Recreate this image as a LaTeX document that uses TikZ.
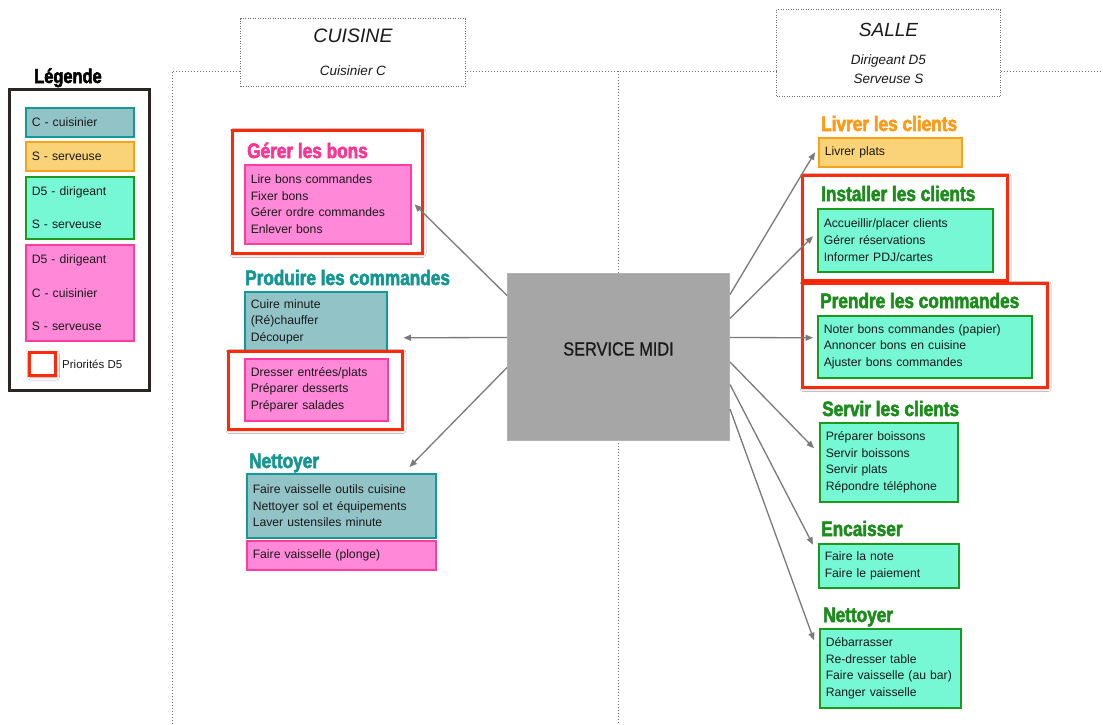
\documentclass[tikz,border=0pt]{standalone}
\usepackage{fontspec}
\setmainfont{Liberation Sans}
\newfontfamily\titlefont[FakeStretch=0.82,BoldFeatures={FakeBold=2.5}]{Liberation Sans}
\newfontfamily\dinfont[FakeStretch=0.86,FakeBold=0.8]{Liberation Sans}
\usetikzlibrary{arrows.meta, positioning, calc, fit, shadows.blur}

\definecolor{tealfill}{HTML}{92C3C6}
\definecolor{tealdraw}{HTML}{13999A}
\definecolor{tealtitre}{HTML}{159693}
\definecolor{rosefill}{HTML}{FF88D8}
\definecolor{rosedraw}{HTML}{FF3D9E}
\definecolor{rosetitre}{HTML}{FF3393}
\definecolor{orfill}{HTML}{FAD378}
\definecolor{ordraw}{HTML}{F8A21C}
\definecolor{ortitre}{HTML}{FF9A15}
\definecolor{vertfill}{HTML}{76F8D5}
\definecolor{vertdraw}{HTML}{1D991D}
\definecolor{verttitre}{HTML}{1C8C1C}
\definecolor{rouge}{HTML}{FF2A0A}
\definecolor{gristrait}{HTML}{7A7A7A}
\definecolor{grismidi}{HTML}{A6A6A6}
\definecolor{pointille}{HTML}{6E6E6E}
\definecolor{legcadre}{HTML}{2B2623}
\definecolor{txt}{HTML}{1A1A1A}

\begin{document}
\begin{tikzpicture}[x=1pt, y=-1pt, >=Stealth,
  tache/.style={draw, line width=1.5pt, anchor=north west, inner xsep=6pt, inner ysep=0pt,
    align=left, text=txt, font=\fontsize{12.2}{16.7}\selectfont},
  cbox/.style={tache, fill=tealfill, draw=tealdraw},
  sbox/.style={tache, fill=orfill, draw=ordraw},
  dsbox/.style={tache, fill=vertfill, draw=vertdraw},
  toutbox/.style={tache, fill=rosefill, draw=rosedraw},
  titre/.style={anchor=base west, inner sep=0pt, font=\titlefont\bfseries\fontsize{21}{24}\selectfont},
  prio/.style={draw=rouge, line width=3pt, fill=white, inner sep=0pt,
    blur shadow={shadow xshift=1pt, shadow yshift=-1.5pt, shadow blur radius=3pt, shadow opacity=35}},
  entete/.style={draw=pointille, dash pattern=on 1pt off 1.5pt, line width=1pt, fill=white,
    anchor=north west, align=center, text=txt, font=\itshape\fontsize{13.5}{19}\selectfont},
  zone/.style={draw=pointille, dash pattern=on 1pt off 2pt, line width=1pt},
  fleche/.style={draw=gristrait, line width=1.3pt, -{Triangle[length=7.5pt,width=6pt]}}]

  \fill[white] (0,0) rectangle (1103,724);
  \useasboundingbox (0,0) rectangle (1103,724);

  % zones cuisine / salle
  \coordinate (hautG) at (172,71);
  \coordinate (hautD) at (1103,71);
  \coordinate (basG)  at (172,724);
  \coordinate (milH)  at (618,71);
  \coordinate (milB)  at (618,724);
  \draw[zone] (basG) -- (hautG) -- (hautD);
  \draw[zone] (milH) -- (milB);

  \node[entete, minimum width=225, minimum height=68] (cuisine) at (240,18)
    {{\fontsize{19.5}{23}\selectfont CUISINE}\\[14pt] Cuisinier C};
  \node[entete, minimum width=224, minimum height=87] (salle) at (776,9)
    {{\fontsize{19}{23}\selectfont SALLE}\\[9pt] Dirigeant D5\\ Serveuse S};

  % legende
  \node[draw=legcadre, line width=3pt, inner sep=0pt, fit={(9,89)(149,390)}] (legende) {};
  \node[anchor=base, inner sep=0pt, font=\titlefont\bfseries\fontsize{20}{24}\selectfont] (legtitre) at (68,83) {Légende};
  \node[cbox, text width=96, minimum height=29] (legC) at (25,107) {C - cuisinier};
  \node[sbox, text width=96, minimum height=29] (legS) at (25,141) {S - serveuse};
  \node[dsbox, text width=96, minimum height=62, font=\fontsize{12.2}{33}\selectfont] (legDS) at (25,176)
    {D5 - dirigeant\\S - serveuse};
  \node[toutbox, text width=96, minimum height=96, font=\fontsize{12.2}{33.5}\selectfont] (legTout) at (25,244)
    {D5 - dirigeant\\C - cuisinier\\S - serveuse};
  \node[prio, anchor=north west, minimum width=26, minimum height=23] (legPrio) at (28,351) {};
  \node[right=5pt of legPrio, inner sep=0pt, text=txt, font=\fontsize{11.5}{14}\selectfont] (legPrioTxt) {Priorités D5};

  % centre
  \node[fill=grismidi, draw=grismidi!85!white, line width=1pt, anchor=north west,
    minimum width=222, minimum height=167, text height=14pt, text depth=17pt, text=txt,
    font=\dinfont\fontsize{19}{22}\selectfont] (service) at (507,273) {SERVICE MIDI};

  % cuisine
  \node[prio, fit={(232,130)(422,253)}] (prioBons) {};
  \node[titre, text=rosetitre] (tBons) at (247,158) {Gérer les bons};
  \node[toutbox, text width=154, minimum height=79] (bonsbox) at (244,164)
    {Lire bons commandes\\Fixer bons\\Gérer ordre commandes\\Enlever bons};

  \node[titre, text=tealtitre] (tProd) at (245,285) {Produire les commandes};
  \node[cbox, text width=130, minimum height=60] (prodbox) at (244,291)
    {Cuire minute\\(Ré)chauffer\\Découper};
  \node[prio, fit={(228,351)(402,429)}] (prioDress) {};
  \node[toutbox, text width=131, minimum height=62] (dressbox) at (244,358)
    {Dresser entrées/plats\\Préparer desserts\\Préparer salades};

  \node[titre, text=tealtitre] (tNetC) at (249,468) {Nettoyer};
  \node[cbox, text width=177, minimum height=64] (netcbox) at (246,473)
    {Faire vaisselle outils cuisine\\Nettoyer sol et équipements\\Laver ustensiles minute};
  \node[toutbox, text width=177, minimum height=29] (plongebox) at (246,540)
    {Faire vaisselle (plonge)};

  % salle
  \node[titre, text=ortitre] (tLiv) at (821,131) {Livrer les clients};
  \node[sbox, text width=131, minimum height=29] (livbox) at (818,137) {Livrer plats};

  \node[prio, fit={(802,175)(1007,280)}] (prioInst) {};
  \node[titre, text=verttitre] (tInst) at (821,201) {Installer les clients};
  \node[dsbox, text width=163, minimum height=63] (instbox) at (817,208)
    {Accueillir/placer clients\\Gérer réservations\\Informer PDJ/cartes};

  \node[prio, fit={(802,283)(1047,387)}] (prioPren) {};
  \node[titre, text=verttitre] (tPren) at (820,308) {Prendre les commandes};
  \node[dsbox, text width=202, minimum height=62] (prenbox) at (817,315)
    {Noter bons commandes (papier)\\Annoncer bons en cuisine\\Ajuster bons commandes};

  \node[titre, text=verttitre] (tServ) at (822,416) {Servir les clients};
  \node[dsbox, text width=126, minimum height=79] (servbox) at (819,422)
    {Préparer boissons\\Servir boissons\\Servir plats\\Répondre téléphone};

  \node[titre, text=verttitre] (tEnc) at (821,536) {Encaisser};
  \node[dsbox, text width=128, minimum height=44] (encbox) at (818,543)
    {Faire la note\\Faire le paiement};

  \node[titre, text=verttitre] (tNetS) at (823,622) {Nettoyer};
  \node[dsbox, text width=129, minimum height=79] (netsbox) at (819,628)
    {Débarrasser\\Re-dresser table\\Faire vaisselle (au bar)\\Ranger vaisselle};

  % fleches
  \draw[fleche] ($(service.west)+(0,-61.5)$) -- ($(bonsbox.east)+(3,0)$);
  \draw[fleche] ($(service.west)+(0,-19.5)$) -- ($(prodbox.east)+(16,16)$);
  \draw[fleche] ($(service.west)+(0,10.5)$)  -- ($(netcbox.north east)+(-27,-6)$);
  \draw[fleche] ($(service.east)+(0,-62.5)$) -- ($(livbox.west)+(-3,0)$);
  \draw[fleche] ($(service.east)+(0,-38.5)$) -- ($(instbox.west)+(-4,-4)$);
  \draw[fleche] ($(service.east)+(0,-19.5)$) -- ($(prenbox.west)+(-4,-9)$);
  \draw[fleche] ($(service.east)+(0,5)$)     -- ($(servbox.west)+(-5,-14)$);
  \draw[fleche] ($(service.east)+(0,27.5)$)  -- ($(encbox.west)+(-5,-21)$);
  \draw[fleche] ($(service.east)+(0,52)$)    -- ($(netsbox.west)+(-5,-28)$);
\end{tikzpicture}
\end{document}
